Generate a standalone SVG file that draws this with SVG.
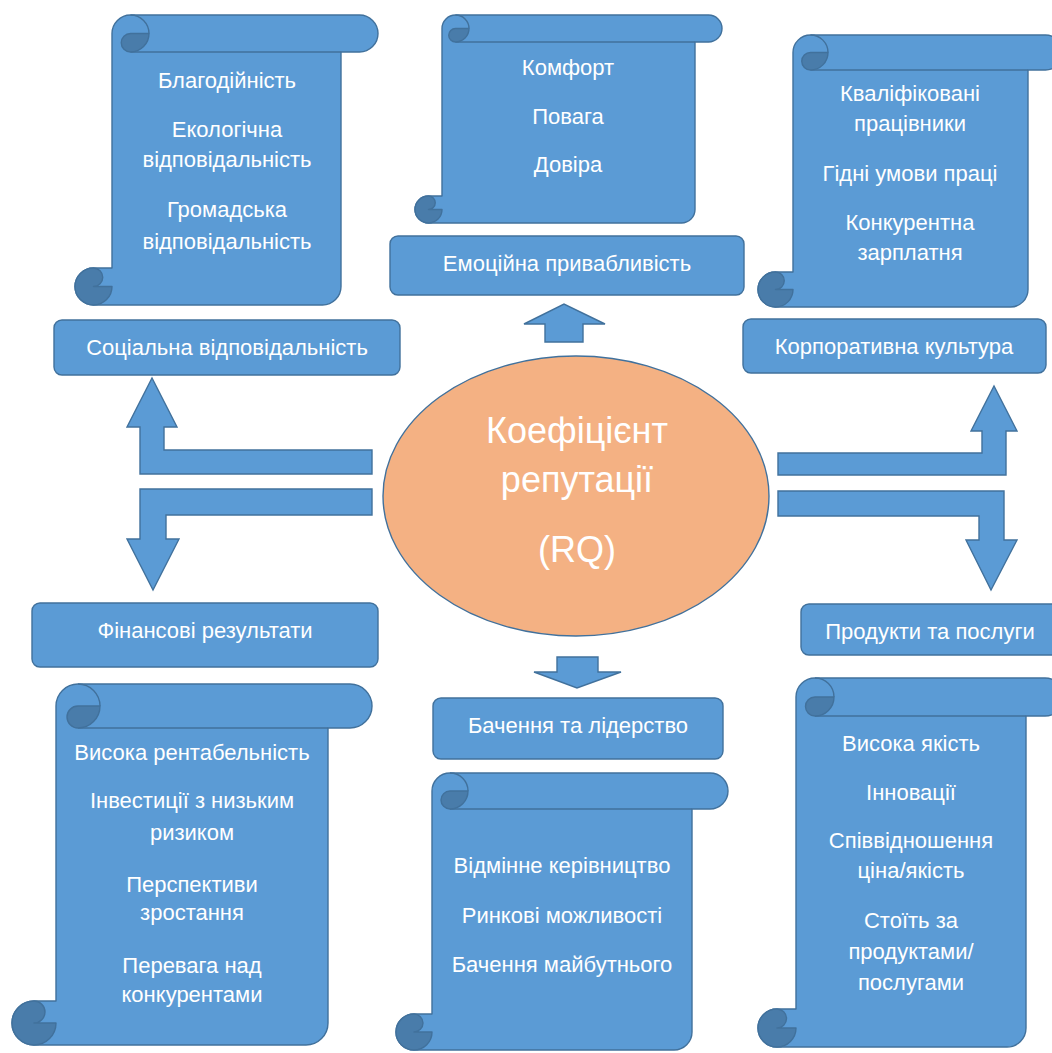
<svg xmlns="http://www.w3.org/2000/svg" width="1052" height="1053" viewBox="0 0 1052 1053">
<style>
.body{fill:#5B9BD5;stroke:#41719C;stroke-width:1.4;stroke-linejoin:round}
.dark{fill:#497CAA;stroke:#41719C;stroke-width:1.4;stroke-linejoin:round}
.ln{fill:none;stroke:#41719C;stroke-width:1.4}
.box{fill:#5B9BD5;stroke:#41719C;stroke-width:1.4}
.arr{fill:#5B9BD5;stroke:#41719C;stroke-width:1.4;stroke-linejoin:miter}
text{font-family:"Liberation Sans",Arial,sans-serif;font-size:22px;fill:#FFFFFF;text-anchor:middle}
.big{font-size:36px}
</style>
<rect width="1052" height="1053" fill="#FFFFFF"/>

<g id="connectors">
<polygon class="arr" points="545,342 545,324 524,324 564,304 605,324 583,324 583,342"/>
<polygon class="arr" points="557,657 598,657 598,672 621,672 577,688 534,672 557,672"/>
<polygon class="arr" points="372,450 164,450 164,427 177,427 152,378 127,427 140,427 140,474 372,474"/>
<polygon class="arr" points="372,489 140,489 140,539 127,539 153,590 179,539 166,539 166,515 372,515"/>
<polygon class="arr" points="778,453 982,453 982,431 971,431 994,386 1017,431 1006,431 1006,475 778,475"/>
<polygon class="arr" points="778,491 1004,491 1004,540 1017,540 991,590 966,540 979,540 979,516 778,516"/>
</g>

<g id="scroll-social">
<path class="body" d="M 112,33.5 A 18.5 18.5 0 0 1 130.5,15 L 359.5,15 A 18.5 18.5 0 0 1 359.5,52 L 341,52 L 341,286.5 A 18.5 18.5 0 0 1 322.5,305 L 93.5,305 A 18.5 18.5 0 0 1 93.5,268 L 112,268 Z"/>
<path class="ln" d="M 130.5,52 L 341,52 M 130.5,15 A 18.5 18.5 0 0 1 149,33.5"/>
<path class="dark" d="M 149,33.5 A 18.5 18.5 0 0 1 130.5,52 A 9.25 9.25 0 0 1 130.5,33.5 Z"/>
<path class="dark" d="M 93.5,305 A 18.5 18.5 0 0 1 93.5,268 A 9.25 9.25 0 0 1 93.5,286.5 L 112,286.5 A 18.5 18.5 0 0 1 93.5,305 Z"/>
<text x="227" y="88">Благодійність</text>
<text x="227" y="137">Екологічна</text>
<text x="227" y="167">відповідальність</text>
<text x="227" y="217">Громадська</text>
<text x="227" y="249">відповідальність</text>
</g>

<g id="scroll-emotional">
<path class="body" d="M 442,28.5 A 13.5 13.5 0 0 1 455.5,15 L 708.5,15 A 13.5 13.5 0 0 1 708.5,42 L 695,42 L 695,209.5 A 13.5 13.5 0 0 1 681.5,223 L 428.5,223 A 13.5 13.5 0 0 1 428.5,196 L 442,196 Z"/>
<path class="ln" d="M 455.5,42 L 695,42 M 455.5,15 A 13.5 13.5 0 0 1 469,28.5"/>
<path class="dark" d="M 469,28.5 A 13.5 13.5 0 0 1 455.5,42 A 6.75 6.75 0 0 1 455.5,28.5 Z"/>
<path class="dark" d="M 428.5,223 A 13.5 13.5 0 0 1 428.5,196 A 6.75 6.75 0 0 1 428.5,209.5 L 442,209.5 A 13.5 13.5 0 0 1 428.5,223 Z"/>
<text x="568" y="75">Комфорт</text>
<text x="568" y="124">Повага</text>
<text x="568" y="172">Довіра</text>
</g>

<g id="scroll-culture">
<path class="body" d="M 793,52.5 A 17.5 17.5 0 0 1 810.5,35 L 1045.5,35 A 17.5 17.5 0 0 1 1045.5,70 L 1028,70 L 1028,289.5 A 17.5 17.5 0 0 1 1010.5,307 L 775.5,307 A 17.5 17.5 0 0 1 775.5,272 L 793,272 Z"/>
<path class="ln" d="M 810.5,70 L 1028,70 M 810.5,35 A 17.5 17.5 0 0 1 828,52.5"/>
<path class="dark" d="M 828,52.5 A 17.5 17.5 0 0 1 810.5,70 A 8.75 8.75 0 0 1 810.5,52.5 Z"/>
<path class="dark" d="M 775.5,307 A 17.5 17.5 0 0 1 775.5,272 A 8.75 8.75 0 0 1 775.5,289.5 L 793,289.5 A 17.5 17.5 0 0 1 775.5,307 Z"/>
<text x="910" y="101">Кваліфіковані</text>
<text x="910" y="131">працівники</text>
<text x="910" y="181">Гідні умови праці</text>
<text x="910" y="230">Конкурентна</text>
<text x="910" y="260">зарплатня</text>
</g>

<g id="box-emotional">
<rect class="box" x="390" y="236" width="354" height="59" rx="8"/>
<text x="567" y="271">Емоційна привабливість</text>
</g>

<g id="box-social">
<rect class="box" x="54" y="320" width="346" height="55" rx="8"/>
<text x="227" y="355">Соціальна відповідальність</text>
</g>

<g id="box-culture">
<rect class="box" x="743" y="319" width="303" height="54" rx="8"/>
<text x="894" y="354">Корпоративна культура</text>
</g>

<g id="center-rq">
<ellipse cx="576" cy="496" rx="193" ry="140" fill="#F4B183" stroke="#41719C" stroke-width="1.4"/>
<text class="big" x="577" y="443">Коефіцієнт</text>
<text class="big" x="577" y="492">репутації</text>
<text class="big" x="577" y="562">(RQ)</text>
</g>

<g id="box-financial">
<rect class="box" x="32" y="603" width="346" height="64" rx="8"/>
<text x="205" y="638">Фінансові результати</text>
</g>

<g id="box-products">
<rect class="box" x="801" y="604" width="262" height="51" rx="8"/>
<text x="930" y="639">Продукти та послуги</text>
</g>

<g id="box-vision">
<rect class="box" x="433" y="698" width="290" height="61" rx="8"/>
<text x="578" y="733">Бачення та лідерство</text>
</g>

<g id="scroll-financial">
<path class="body" d="M 56,706 A 22 22 0 0 1 78,684 L 350,684 A 22 22 0 0 1 350,728 L 328,728 L 328,1023 A 22 22 0 0 1 306,1045 L 34,1045 A 22 22 0 0 1 34,1001 L 56,1001 Z"/>
<path class="ln" d="M 78,728 L 328,728 M 78,684 A 22 22 0 0 1 100,706"/>
<path class="dark" d="M 100,706 A 22 22 0 0 1 78,728 A 11 11 0 0 1 78,706 Z"/>
<path class="dark" d="M 34,1045 A 22 22 0 0 1 34,1001 A 11 11 0 0 1 34,1023 L 56,1023 A 22 22 0 0 1 34,1045 Z"/>
<text x="192" y="760">Висока рентабельність</text>
<text x="192" y="808">Інвестиції з низьким</text>
<text x="192" y="840">ризиком</text>
<text x="192" y="892">Перспективи</text>
<text x="192" y="920">зростання</text>
<text x="192" y="973">Перевага над</text>
<text x="192" y="1002">конкурентами</text>
</g>

<g id="scroll-vision">
<path class="body" d="M 432,791 A 18 18 0 0 1 450,773 L 710,773 A 18 18 0 0 1 710,809 L 692,809 L 692,1032 A 18 18 0 0 1 674,1050 L 414,1050 A 18 18 0 0 1 414,1014 L 432,1014 Z"/>
<path class="ln" d="M 450,809 L 692,809 M 450,773 A 18 18 0 0 1 468,791"/>
<path class="dark" d="M 468,791 A 18 18 0 0 1 450,809 A 9 9 0 0 1 450,791 Z"/>
<path class="dark" d="M 414,1050 A 18 18 0 0 1 414,1014 A 9 9 0 0 1 414,1032 L 432,1032 A 18 18 0 0 1 414,1050 Z"/>
<text x="562" y="873">Відмінне керівництво</text>
<text x="562" y="923">Ринкові можливості</text>
<text x="562" y="972">Бачення майбутнього</text>
</g>

<g id="scroll-products">
<path class="body" d="M 796,697 A 19 19 0 0 1 815,678 L 1045,678 A 19 19 0 0 1 1045,716 L 1026,716 L 1026,1028 A 19 19 0 0 1 1007,1047 L 777,1047 A 19 19 0 0 1 777,1009 L 796,1009 Z"/>
<path class="ln" d="M 815,716 L 1026,716 M 815,678 A 19 19 0 0 1 834,697"/>
<path class="dark" d="M 834,697 A 19 19 0 0 1 815,716 A 9.5 9.5 0 0 1 815,697 Z"/>
<path class="dark" d="M 777,1047 A 19 19 0 0 1 777,1009 A 9.5 9.5 0 0 1 777,1028 L 796,1028 A 19 19 0 0 1 777,1047 Z"/>
<text x="911" y="751">Висока якість</text>
<text x="911" y="800">Інновації</text>
<text x="911" y="848">Співвідношення</text>
<text x="911" y="878">ціна/якість</text>
<text x="911" y="928">Стоїть за</text>
<text x="911" y="959">продуктами/</text>
<text x="911" y="990">послугами</text>
</g>
</svg>
